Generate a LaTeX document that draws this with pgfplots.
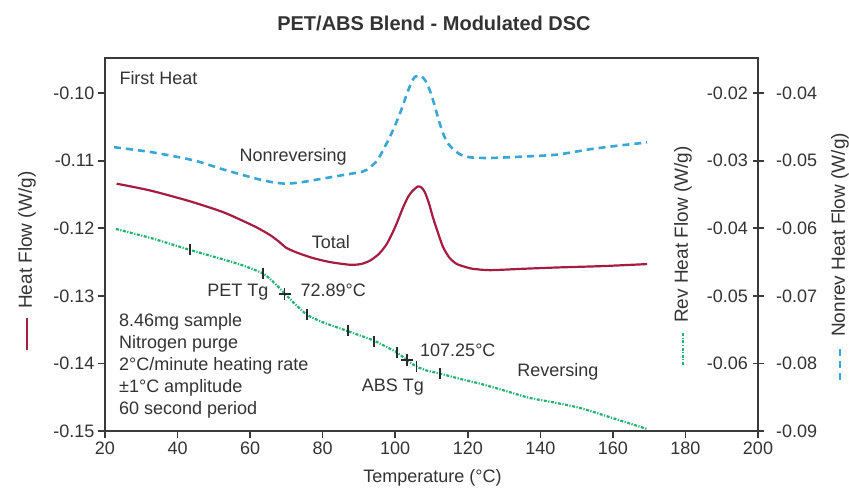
\documentclass[border=0pt]{standalone}
\usepackage{fontspec}
\setmainfont{Liberation Sans}
\usepackage{pgfplots}
\pgfplotsset{compat=1.18}
\definecolor{txt}{HTML}{333333}
\definecolor{axc}{HTML}{3A3A3A}
\definecolor{totc}{HTML}{A51C40}
\definecolor{nrc}{HTML}{3AA6D6}
\definecolor{revc}{HTML}{22B16E}
\definecolor{mk}{HTML}{2A2A2A}

\pgfplotsset{common/.style={
  scale only axis, width=653pt, height=373pt, xmin=20, xmax=200,
  axis line style={axc, line width=1.8pt},
  every tick/.style={axc, line width=1.6pt},
  tick label style={font=\fontsize{18}{22}\selectfont, text=txt},
  /pgf/number format/assume math mode=true,
  scaled y ticks=false,
  yticklabel style={/pgf/number format/fixed, /pgf/number format/fixed zerofill, /pgf/number format/precision=2},
  clip=false,
}}

\begin{document}
\begin{tikzpicture}
% ---------- main (Heat Flow) axis ----------
\begin{axis}[common, name=main,
  ymin=-0.15, ymax=-0.0948,
  xtick={20,40,60,80,100,120,140,160,180,200},
  ytick={-0.15,-0.14,-0.13,-0.12,-0.11,-0.10},
  xtick pos=bottom, ytick pos=left, tick align=outside, major tick length=7pt]
\addplot[totc, line width=2.2pt, smooth, tension=0.4] coordinates {
(23.2,-0.1134) (32.4,-0.1144) (43.4,-0.1160) (52.5,-0.1176) (58,-0.1189)
(61.9,-0.1199) (65.5,-0.1210) (68,-0.1220) (70,-0.1229) (72.9,-0.1236)
(77.3,-0.1244) (82,-0.1250) (87.5,-0.1254) (90.5,-0.1253) (93,-0.1248)
(95.5,-0.1238) (97.7,-0.1223) (100,-0.1198) (102.1,-0.1170) (103.6,-0.1153)
(104.9,-0.1144) (106.3,-0.1138) (107.3,-0.1140) (108.2,-0.1147) (109.3,-0.1163)
(110.4,-0.1184) (111.8,-0.1207) (113.2,-0.1228) (115,-0.1244) (117,-0.1253)
(119.8,-0.1258) (121.4,-0.1260) (126.1,-0.1262) (135,-0.1260) (144.6,-0.1258)
(157,-0.1256) (169.4,-0.1253)};

\node[text=txt, font=\bfseries\fontsize{20}{24}\selectfont] at (rel axis cs:0.5038,1.0938) {PET/ABS Blend - Modulated DSC};
\node[text=txt, font=\fontsize{18}{22}\selectfont] at (rel axis cs:0.5015,-0.126) {Temperature (°C)};
\node[text=txt, font=\fontsize{18}{22}\selectfont, anchor=west] at (rel axis cs:0.0168,0.946) {First Heat};
\node[text=txt, font=\fontsize{18}{22}\selectfont] at (rel axis cs:0.288,0.7346) {Nonreversing};
\node[text=txt, font=\fontsize{18}{22}\selectfont] at (rel axis cs:0.346,0.5067) {Total};
\node[text=txt, font=\fontsize{18}{22}\selectfont, anchor=east] at (rel axis cs:0.2557,0.3727) {PET Tg};
\node[text=txt, font=\fontsize{18}{22}\selectfont, anchor=west] at (rel axis cs:0.294,0.378) {72.89°C};
\node[text=txt, font=\fontsize{18}{22}\selectfont, anchor=west] at (rel axis cs:0.4773,0.2172) {107.25°C};
\node[text=txt, font=\fontsize{18}{22}\selectfont] at (rel axis cs:0.441,0.1188) {ABS Tg};
\node[text=txt, font=\fontsize{18}{22}\selectfont] at (rel axis cs:0.6937,0.158) {Reversing};
\node[text=txt, font=\fontsize{18}{22}\selectfont, anchor=west, align=left, inner sep=0pt] at (rel axis cs:0.0214,0.1743)
  {8.46mg sample\\Nitrogen purge\\2°C/minute heating rate\\±1°C amplitude\\60 second period};
\end{axis}

% ---------- Rev Heat Flow axis ----------
\begin{axis}[common,
  ymin=-0.07, ymax=-0.0148,
  axis x line=none, axis y line*=right,
  ytick={-0.06,-0.05,-0.04,-0.03,-0.02},
  tick align=center, major tick length=11pt,
  yticklabel style={anchor=east, xshift=-12pt}]
\addplot[revc, line width=2.2pt, smooth, tension=0.4,
  dash pattern=on 3pt off 1.5pt on 1.2pt off 1.5pt] coordinates {
(23,-0.0401) (33,-0.0415) (43.4,-0.0432) (52.5,-0.0446) (58,-0.0455)
(63.6,-0.0467) (66.5,-0.0480) (69.3,-0.0495) (72,-0.0510) (75.7,-0.0528)
(80,-0.0539) (86.8,-0.0552) (94,-0.0566) (100.5,-0.0584) (103.2,-0.0595)
(106,-0.0605) (109,-0.0611) (112.3,-0.0615) (118,-0.0623) (123.4,-0.0630)
(130,-0.0640) (137,-0.0651) (144,-0.0658) (151,-0.0666) (160,-0.0681)
(169.4,-0.0697)};
\addplot[only marks, mark=|, mark size=5.5pt, mark options={mk, line width=1.6pt}] coordinates {
(43.5,-0.0432) (63.6,-0.0467) (75.7,-0.0528) (87,-0.0552) (94.2,-0.0567)
(100.5,-0.0584) (105.9,-0.0604) (112.4,-0.0615)};
\addplot[only marks, mark=+, mark size=6pt, mark options={mk, line width=1.8pt}] coordinates {
(69.5,-0.0497) (103.3,-0.0595)};
\end{axis}

% ---------- Nonrev Heat Flow axis ----------
\begin{axis}[common,
  ymin=-0.09, ymax=-0.0348,
  axis x line=none, axis y line*=right,
  ytick={-0.09,-0.08,-0.07,-0.06,-0.05,-0.04},
  tick align=center, major tick length=11pt,
  yticklabel style={anchor=west, xshift=9pt}]
\addplot[nrc, line width=2.6pt, smooth, tension=0.4, dash pattern=on 7pt off 5pt] coordinates {
(22.5,-0.0480) (32.4,-0.0487) (41.5,-0.0496) (46.2,-0.0502) (52,-0.0512)
(57.2,-0.0520) (62,-0.0527) (66.3,-0.0532) (70,-0.0534) (74,-0.0532)
(77.3,-0.0529) (84.8,-0.0522) (91.1,-0.0516) (93,-0.0510) (95,-0.0500)
(96.6,-0.0485) (98.6,-0.0464) (100.5,-0.0441) (102,-0.0420) (103.2,-0.0401)
(104.5,-0.0384) (105.4,-0.0376) (106.8,-0.0374) (107.8,-0.0378) (108.8,-0.0386)
(110,-0.0403) (111,-0.0421) (112,-0.0440) (113.2,-0.0460) (114.5,-0.0474)
(116,-0.0483) (118,-0.0491) (120.6,-0.0495) (126,-0.0496) (135,-0.0494)
(144.6,-0.0491) (153.7,-0.0483) (161,-0.0478) (169.4,-0.0473)};
\end{axis}

% ---------- axis titles with line samples ----------
\draw[totc, line width=2.6pt] ([shift={(-78pt,81pt)}]main.south west) -- ([shift={(-78pt,113pt)}]main.south west);
\node[rotate=90, anchor=west, inner sep=0pt, text=txt, font=\fontsize{19}{23}\selectfont]
  at ([shift={(-78pt,122pt)}]main.south west) {Heat Flow (W/g)};
\draw[revc, line width=2.2pt, dash pattern=on 3pt off 1.5pt on 1.2pt off 1.5pt]
  ([shift={(578pt,66pt)}]main.south west) -- ([shift={(578pt,98pt)}]main.south west);
\node[rotate=90, anchor=west, inner sep=0pt, text=txt, font=\fontsize{19}{23}\selectfont]
  at ([shift={(578pt,108pt)}]main.south west) {Rev Heat Flow (W/g)};
\draw[nrc, line width=2.6pt, dash pattern=on 7pt off 5pt]
  ([shift={(735pt,51pt)}]main.south west) -- ([shift={(735pt,84pt)}]main.south west);
\node[rotate=90, anchor=west, inner sep=0pt, text=txt, font=\fontsize{19}{23}\selectfont]
  at ([shift={(735pt,94pt)}]main.south west) {Nonrev Heat Flow (W/g)};

\pgfresetboundingbox
\path[use as bounding box] ([shift={(-105pt,-58pt)}]main.south west) rectangle ([shift={(744pt,431pt)}]main.south west);
\end{tikzpicture}
\end{document}
